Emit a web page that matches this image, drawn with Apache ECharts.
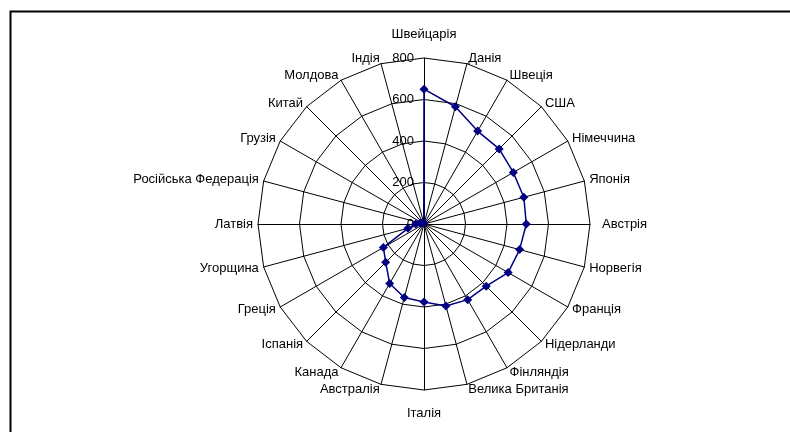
<!DOCTYPE html>
<html><head><meta charset="utf-8">
<script src="https://cdn.jsdelivr.net/npm/echarts@6/dist/echarts.min.js"></script>
<style>html,body{margin:0;padding:0;background:#fff}#c{width:790px;height:432px}</style>
</head><body><div id="c"></div>
<script>
// Clockwise from top
const categories = ['Швейцарія','Данія','Швеція','США','Німеччина','Японія','Австрія','Норвегія','Франція','Нідерланди','Фінляндія','Велика Британія','Італія','Австралія','Канада','Іспанія','Греція','Угорщина','Латвія','Російська Федерація','Грузія','Китай','Молдова','Індія'];
const values = [650, 585, 517, 512, 497, 498, 493, 477, 468, 424, 421, 409, 376, 367, 331, 261, 226, 80, 40, 20, 10, 8, 5, 5];
const tickValues = [0, 200, 400, 600, 800];
const maxValue = 800;

// ECharts radar places indicators counter-clockwise; reorder to get clockwise
const order = [0].concat(categories.map((_, i) => i).slice(1).reverse());
const indicators = order.map(i => ({ name: categories[i], min: 0, max: maxValue }));
const seriesData = order.map(i => values[i]);

const font = 'Liberation Sans, Arial, sans-serif';
const chart = echarts.init(document.getElementById('c'));
chart.setOption({
  animation: false,
  backgroundColor: '#fff',
  graphic: [{
    type: 'rect', left: 8, top: 9,
    shape: { width: 900, height: 500 },
    style: { fill: 'none', stroke: '#000', lineWidth: 2 }, silent: true
  }],
  radar: {
    center: [424, 224], radius: 166, startAngle: 90,
    shape: 'polygon', splitNumber: tickValues.length - 1,
    indicator: indicators,
    axisName: {
      color: '#000', fontFamily: font, fontSize: 13,
      formatter: function (name) {
        if (name === categories[0]) return '{far|' + name + '}';
        if (name === categories[12]) return '{far|' + name + '}';
        if (name === categories[6]) return '{side|' + name + '}';
        return name;
      },
      rich: {
        far: { color: '#000', fontFamily: font, fontSize: 13, lineHeight: 37 },
        side: { color: '#000', fontFamily: font, fontSize: 13, padding: [0, 0, 0, 7] }
      }
    },
    nameGap: 5,
    axisLine: { lineStyle: { color: '#000', width: 1 } },
    splitLine: { lineStyle: { color: '#000', width: 1 } },
    splitArea: { show: false },
    axisTick: { show: false },
    axisLabel: { show: false }
  },
  polar: { center: [424, 224], radius: 166 },
  angleAxis: { type: 'value', startAngle: 90, show: false, min: 0, max: 360 },
  radiusAxis: {
    type: 'value', min: tickValues[0], max: tickValues[tickValues.length - 1], interval: 200,
    axisLine: { show: false }, axisTick: { show: false }, splitLine: { show: false },
    axisLabel: { color: '#000', fontFamily: font, fontSize: 13, margin: 10 }
  },
  series: [{
    type: 'radar',
    symbol: 'diamond', symbolSize: 9,
    lineStyle: { color: '#000080', width: 1.5 },
    itemStyle: { color: '#000080' },
    data: [{ value: seriesData }]
  }]
});
</script></body></html>
